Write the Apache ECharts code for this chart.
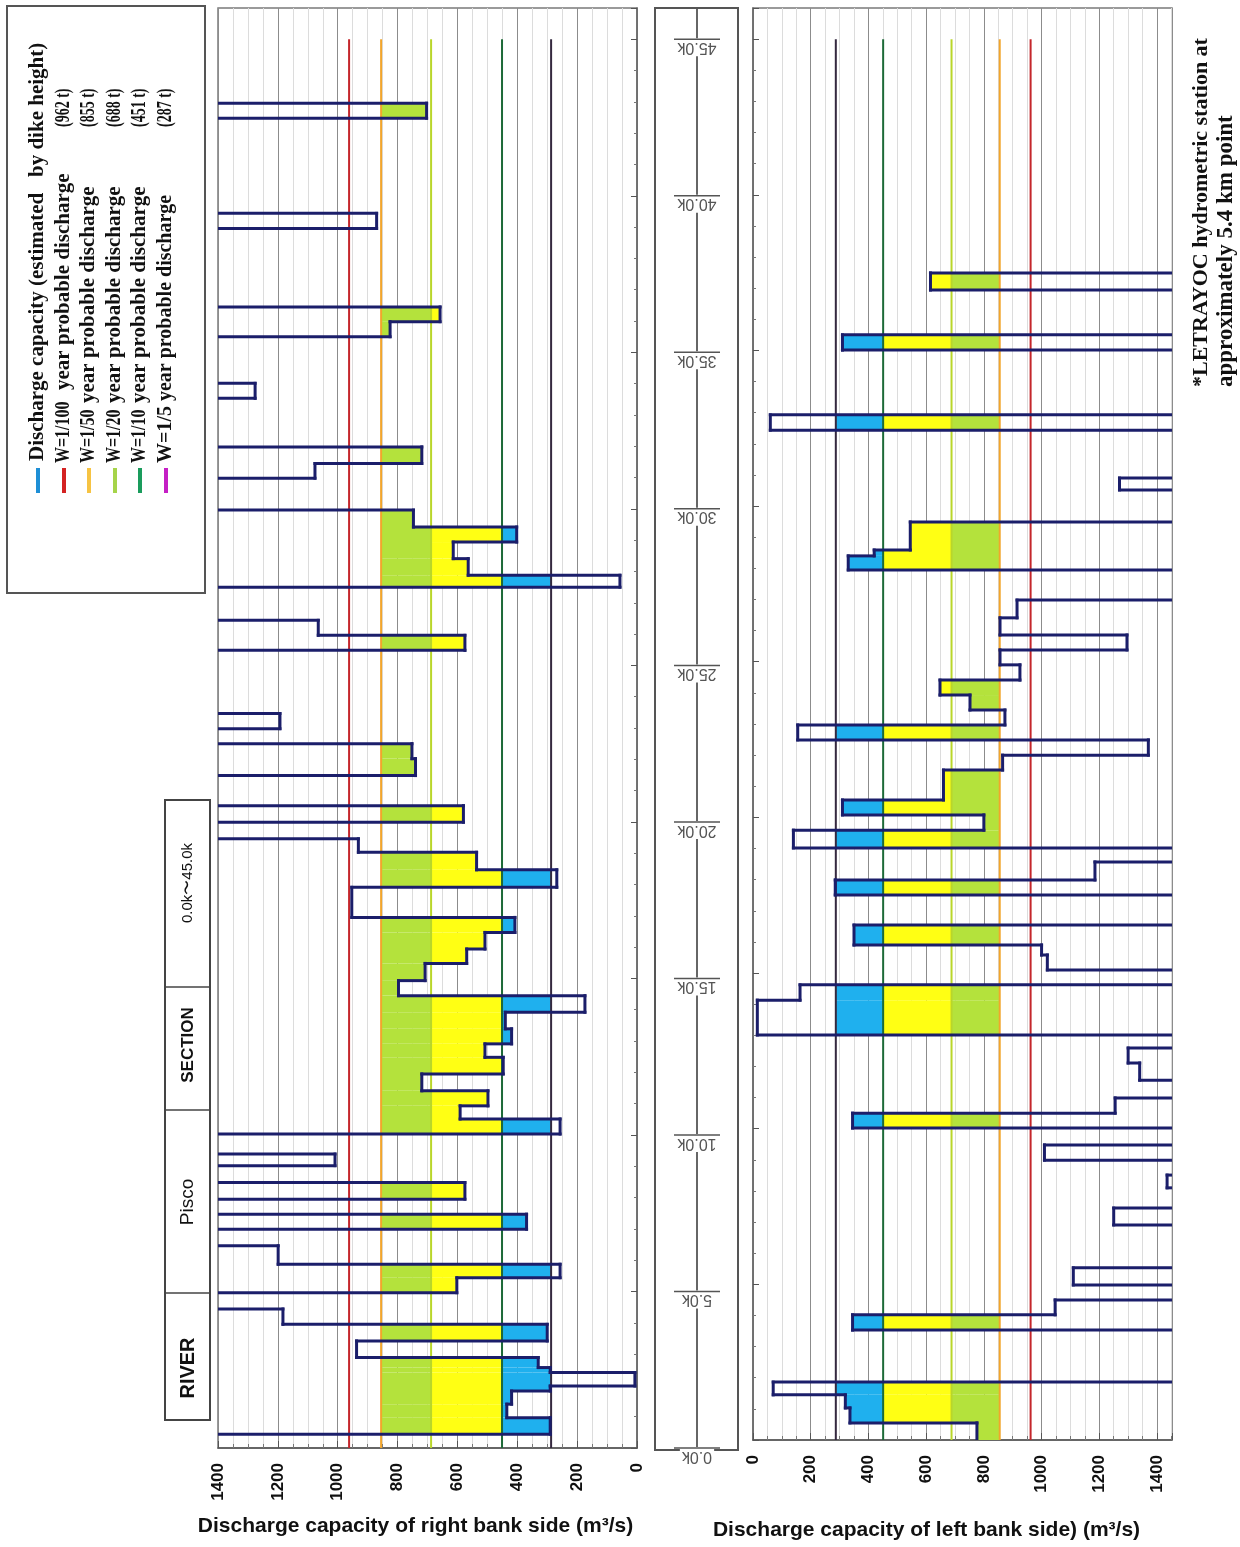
<!DOCTYPE html>
<html><head><meta charset="utf-8">
<script src="https://cdn.jsdelivr.net/npm/echarts@6/dist/echarts.min.js"></script>
<style>html,body{margin:0;padding:0;background:#fff;}#c{width:1240px;height:1547px;}</style>
</head><body><div id="c"></div>
<script>
// ---------------- data ----------------
const thresholdValues = [962, 855, 688, 451, 287];
const thresholdNames = ['W=1/100', 'W=1/50', 'W=1/20', 'W=1/10', 'W=1/5'];
const thresholdColors = ['#c4262b', '#f2a52b', '#b9d62a', '#1d6a38', '#35293f'];
const legendColors = ['#1e8fd6', '#d42222', '#f6c343', '#a6d44a', '#1a9c5c', '#c51fc5'];

// Right bank: section boundaries (km) and discharge capacity (m3/s); 1500 = beyond 1400
const rbKm = [0, 0.44, 0.97, 1.40, 1.82, 1.98, 2.41, 2.57, 2.89, 3.42, 3.95, 4.44, 4.96, 5.44, 5.87, 6.46, 6.99, 7.47, 7.95, 8.48, 9.02, 9.39, 10.03, 10.51, 10.93, 11.41, 11.95, 12.48, 12.91, 13.39, 13.92, 14.45, 14.93, 15.48, 15.94, 16.47, 16.95, 17.91, 18.47, 19.03, 19.46, 19.99, 20.52, 21.48, 22.02, 22.50, 22.98, 23.46, 25.48, 25.96, 26.44, 27.50, 27.88, 28.41, 28.94, 29.42, 29.96, 30.98, 31.45, 31.98, 33.53, 34.01, 35.50, 35.98, 36.45, 38.96, 39.44, 42.48, 42.96, 46];
const rbCap = [1500, 290, 435, 419, 290, 7, 290, 330, 937, 300, 1183, 1500, 602, 257, 1199, 1500, 369, 1500, 575, 1500, 1009, 1500, 257, 591, 498, 719, 447, 508, 419, 440, 174, 797, 708, 569, 508, 408, 953, 268, 536, 931, 1500, 580, 1500, 740, 752, 1500, 1193, 1500, 575, 1065, 1500, 57, 564, 614, 402, 747, 1500, 1076, 719, 1500, 1276, 1500, 825, 658, 1500, 870, 1500, 703, 1500];

// Left bank
const lbKm = [0, 0.55, 1.03, 1.45, 1.86, 3.53, 4.02, 4.50, 4.98, 5.53, 6.91, 7.45, 8.10, 8.51, 8.99, 9.48, 10.02, 10.50, 10.99, 11.56, 12.11, 12.59, 13.01, 14.13, 14.62, 15.10, 15.58, 15.90, 16.54, 17.51, 17.99, 18.57, 19.02, 19.59, 20.08, 20.56, 21.52, 22.00, 22.49, 22.97, 23.45, 23.93, 24.41, 24.90, 25.38, 25.86, 26.41, 26.98, 27.95, 28.40, 28.59, 29.49, 30.52, 30.90, 32.44, 32.93, 35.01, 35.50, 36.94, 37.49, 46];
const lbCap = [776, 336, 320, 70, 1500, 345, 1047, 1500, 1110, 1500, 1250, 1500, 1435, 1500, 1010, 1500, 345, 1255, 1500, 1340, 1300, 1500, 15, 163, 1500, 1020, 1000, 350, 1500, 285, 1185, 1500, 140, 800, 310, 660, 865, 1370, 155, 873, 752, 648, 925, 856, 1296, 856, 915, 1500, 330, 420, 545, 1500, 1270, 1500, 60, 1500, 310, 1500, 615, 1500];

const distTicks = [0, 5, 10, 15, 20, 25, 30, 35, 40, 45];
const distLabels = ['0.0k', '5.0k', '10.0k', '15.0k', '20.0k', '25.0k', '30.0k', '35.0k', '40.0k', '45.0k'];
const capTicks = [0, 200, 400, 600, 800, 1000, 1200, 1400];
const sectionCells = ['RIVER', 'Pisco', 'SECTION', '0.0k\u301c45.0k'];

// ---------------- styling ----------------
const NAVY = '#1b1e6a';
const BANDS = [[287, 451, '#1fb0ee'], [451, 688, '#ffff14'], [688, 855, '#b4e23c']];

function items(km, cap) {
  const out = [];
  for (let i = 0; i < cap.length; i++) out.push([km[i], km[i + 1], cap[i], i > 0 ? cap[i - 1] : cap[i]]);
  return out;
}
function fillRender(params, api) {
  const k0 = api.value(0), k1 = api.value(1), v = api.value(2);
  const ch = [];
  BANDS.forEach(function (b) {
    if (v < b[1]) {
      const a = api.coord([Math.max(v, b[0]), k0]), c = api.coord([b[1], k1]);
      ch.push({type: 'rect', shape: {x: Math.min(a[0], c[0]), y: Math.min(a[1], c[1]), width: Math.abs(a[0] - c[0]), height: Math.abs(a[1] - c[1])}, style: {fill: b[2]}});
    }
  });
  return {type: 'group', children: ch};
}
function lineRender(maxV) {
  return function (params, api) {
    const k0 = api.value(0), k1 = api.value(1), v = api.value(2), pv = api.value(3);
    const cv = Math.min(v, maxV), cp = Math.min(pv, maxV);
    const ch = [];
    const st = {stroke: NAVY, lineWidth: 3, lineCap: 'square'};
    if (v <= maxV) {
      const a = api.coord([v, k0]), b = api.coord([v, k1]);
      ch.push({type: 'line', shape: {x1: a[0], y1: a[1], x2: b[0], y2: b[1]}, style: st});
    }
    if (cp !== cv) {
      const a = api.coord([cp, k0]), b = api.coord([cv, k0]);
      ch.push({type: 'line', shape: {x1: a[0], y1: a[1], x2: b[0], y2: b[1]}, style: st});
    }
    return {type: 'group', children: ch};
  };
}

const axisFont = {fontFamily: 'Liberation Sans, Arial', fontWeight: 'bold', fontSize: 17, color: '#111'};
function xAx(grid, max, inverse, name, shift, gap) {
  return {
    type: 'value', gridIndex: grid, min: 0, max: max, interval: 200, inverse: inverse,
    axisLine: {show: true, lineStyle: {color: '#555', width: 1.5}},
    axisTick: {show: true, inside: true, length: 7, lineStyle: {color: '#555'}},
    minorTick: {show: true, splitNumber: 4, length: 4, lineStyle: {color: '#777'}},
    splitLine: {show: true, lineStyle: {color: '#8c8c8c', width: 1}},
    minorSplitLine: {show: true, lineStyle: {color: '#dcdcdc', width: 1}},
    axisLabel: Object.assign({rotate: 90, margin: 15, formatter: function (v) { return capTicks.indexOf(v) >= 0 ? String(v) : ''; }}, axisFont),
    name: name, nameLocation: 'middle', nameGap: gap,
    nameTextStyle: {fontFamily: 'Liberation Sans, Arial', fontWeight: 'bold', fontSize: 21, color: '#111', padding: [0, shift, 0, 0]}
  };
}
function yAx(grid, pos) {
  return {
    type: 'value', gridIndex: grid, min: 0, max: 46, interval: 5, position: pos,
    axisLine: {show: true, lineStyle: {color: '#666', width: 1.5}},
    axisTick: {show: true, inside: true, length: 6, lineStyle: {color: '#555'}},
    minorTick: {show: true, splitNumber: 5, length: 3, lineStyle: {color: '#777'}},
    axisLabel: {show: false}, splitLine: {show: false}
  };
}

const series = [];
[[0, rbKm, rbCap, 1400], [1, lbKm, lbCap, 1452]].forEach(function (g) {
  const data = items(g[1], g[2]);
  series.push({type: 'custom', xAxisIndex: g[0], yAxisIndex: g[0], data: data, renderItem: fillRender, z: 2, silent: true, clip: true});
  thresholdValues.forEach(function (v, i) {
    series.push({type: 'line', xAxisIndex: g[0], yAxisIndex: g[0], data: [[v, 0], [v, 45]], showSymbol: false, silent: true, z: 3,
      lineStyle: {color: thresholdColors[i], width: 2}});
  });
  series.push({type: 'custom', xAxisIndex: g[0], yAxisIndex: g[0], data: data, renderItem: lineRender(g[3]), z: 4, silent: true, clip: true});
});
// distance scale strip
series.push({
  type: 'custom', xAxisIndex: 2, yAxisIndex: 2, z: 5, silent: true,
  data: distTicks.map(function (k, i) { return [0.5, k, i]; }),
  renderItem: function (params, api) {
    const p = api.coord([0.5, api.value(1)]);
    const lab = distLabels[api.value(2)];
    return {type: 'group', children: [
      {type: 'text', x: p[0], y: p[1] + 8, rotation: Math.PI,
        style: {text: lab, fontFamily: 'Liberation Sans, Arial', fontSize: 16, fill: '#555', align: 'center', verticalAlign: 'middle', backgroundColor: '#fff', padding: [1, 2]}},
      {type: 'line', shape: {x1: p[0] - 23, y1: p[1], x2: p[0] + 23, y2: p[1]}, style: {stroke: '#555', lineWidth: 1.5}}
    ]};
  }
});

// ---------------- decorations (text) ----------------
const serif = 'Liberation Serif, Times New Roman, serif';
function vtext(x, y, text, size, family, weight, sx) {
  return {type: 'text', x: x, y: y, rotation: Math.PI / 2, scaleX: sx || 1, z: 10,
    style: {text: text, fontSize: size, fontFamily: family, fontWeight: weight || 'normal', fill: '#111', align: 'left', verticalAlign: 'middle'}};
}
function ctext(x, y, text, size, family, weight) {
  return {type: 'text', x: x, y: y, rotation: Math.PI / 2, z: 10,
    style: {text: text, fontSize: size, fontFamily: family, fontWeight: weight || 'normal', fill: '#111', align: 'center', verticalAlign: 'middle'}};
}
const graphics = [];
// legend box
graphics.push({type: 'rect', shape: {x: 7, y: 6, width: 198, height: 587}, style: {fill: '#fff', stroke: '#555', lineWidth: 2}, z: 9});
const colX = [38, 64, 89, 115, 140, 166];
graphics.push(vtext(colX[0], 461, 'Discharge capacity (estimated   by dike height)', 21, serif, 'bold'));
thresholdNames.forEach(function (n, i) {
  const x = colX[i + 1];
  if (i < 4) {
    graphics.push(vtext(x, 463, n, 20, serif, 'bold', 0.8));
    graphics.push(vtext(x, i === 0 ? 390 : 403, 'year probable discharge', 21, serif, 'bold'));
  } else {
    graphics.push(vtext(x, 463, n + ' year probable discharge', 20, serif, 'bold'));
  }
  graphics.push(vtext(x, 127, '(' + thresholdValues[i] + ' t)', 20, serif, 'bold', 0.7));
});
legendColors.forEach(function (c, i) {
  graphics.push({type: 'rect', shape: {x: colX[i] - 2, y: 468, width: 4, height: 25}, style: {fill: c}, z: 10});
});
// river / section box
const cellCenters = [1368, 1202, 1045, 883];
graphics.push({type: 'rect', shape: {x: 165, y: 800, width: 45, height: 620}, style: {fill: '#fff', stroke: '#444', lineWidth: 2}, z: 9});
[1293, 1110, 987].forEach(function (y) {
  graphics.push({type: 'line', shape: {x1: 165, y1: y, x2: 210, y2: y}, style: {stroke: '#444', lineWidth: 1.5}, z: 9});
});
sectionCells.forEach(function (t, i) {
  const sizes = [20, 19, 17, 15];
  const bold = (i === 0 || i === 2);
  graphics.push(ctext(188, cellCenters[i], t, sizes[i], 'Liberation Sans, Arial', bold ? 'bold' : 'normal'));
});
// strip border
graphics.push({type: 'rect', shape: {x: 655, y: 8, width: 83, height: 1442}, style: {fill: 'none', stroke: '#555', lineWidth: 2}, z: 1});
// note
graphics.push(vtext(1201, 387, '*LETRAYOC hydrometric station at', 22, serif, 'bold'));
graphics.push(vtext(1226, 387, 'approximately 5.4 km point', 23, serif, 'bold'));

const option = {
  animation: false,
  backgroundColor: '#fff',
  grid: [
    {left: 218, width: 419, top: 8, height: 1440, show: true, borderColor: '#7a7a7a', borderWidth: 1.5},
    {left: 753, width: 419, top: 8, height: 1432, show: true, borderColor: '#7a7a7a', borderWidth: 1.5},
    {left: 655, width: 84, top: 8, height: 1440}
  ],
  xAxis: [
    xAx(0, 1400, true, 'Discharge capacity of right bank side (m\u00b3/s)', 24, 68),
    xAx(1, 1452, false, 'Discharge capacity of left bank side) (m\u00b3/s)', 72, 80),
    {type: 'value', gridIndex: 2, min: 0, max: 1, show: false}
  ],
  yAxis: [
    yAx(0, 'right'),
    yAx(1, 'left'),
    {type: 'value', gridIndex: 2, min: 0, max: 46, position: 'left', offset: -42,
      axisLine: {show: true, lineStyle: {color: '#666', width: 2}}, axisTick: {show: false}, axisLabel: {show: false}, splitLine: {show: false}}
  ],
  series: series,
  graphic: graphics
};
const chart = echarts.init(document.getElementById('c'));
chart.setOption(option);
</script>
</body></html>
